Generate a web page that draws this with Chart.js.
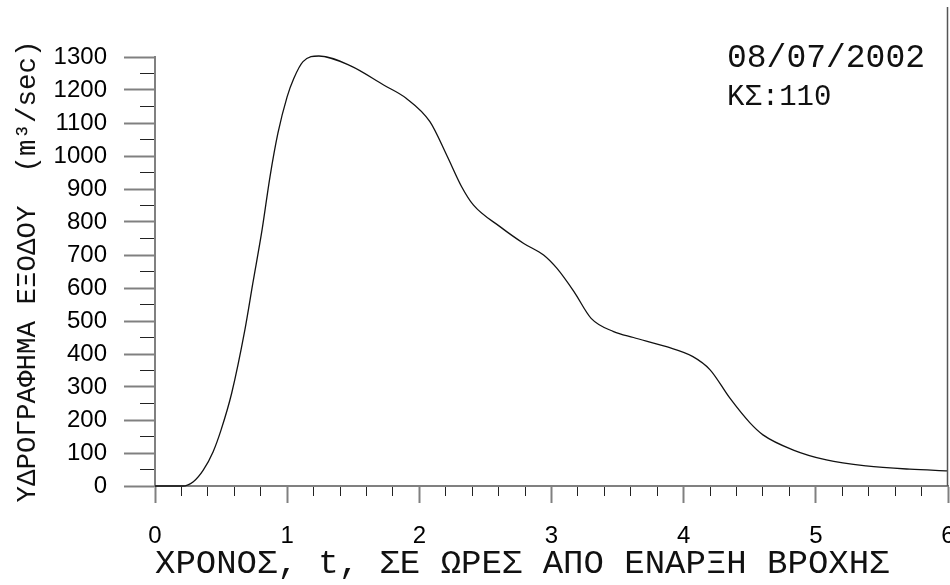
<!DOCTYPE html>
<html>
<head>
<meta charset="utf-8">
<script src="https://cdn.jsdelivr.net/npm/chart.js@4/dist/chart.umd.min.js"></script>
<style>
  html, body { margin: 0; padding: 0; background: #fff; }
  #wrap { width: 950px; height: 585px; }
</style>
</head>
<body>
<div id="wrap"><canvas id="hydro"></canvas></div>
<script>
// hydrograph: time (h) and outflow (m3/sec)
const times = [0, 0.21, 0.29, 0.365, 0.44, 0.5, 0.58, 0.68, 0.74, 0.81, 0.87, 0.93, 1.0, 1.05, 1.12, 1.24,
    1.48, 1.73, 1.9, 2.08, 2.21, 2.32, 2.41, 2.61, 2.79, 2.94, 3.04, 3.17, 3.3, 3.47, 3.62, 3.87,
    4.07, 4.2, 4.35, 4.5, 4.6, 4.83, 5.08, 5.38, 5.71, 6.0];
const flows = [0, 0, 13, 48, 104, 170, 281, 473, 614, 776, 937, 1069, 1180, 1235, 1286, 1303,
    1273, 1215, 1175, 1104, 1000, 907, 851, 786, 735, 700, 660, 589, 508, 468, 450, 422,
    392, 352, 266, 192, 155, 109, 79, 61, 51, 46];

const xRange = [0, 6];
const yRange = [0, 1300];
const eventDate = '08/07/2002';
const stationLabel = 'ΚΣ:110';
const xTitle = 'ΧΡΟΝΟΣ, t, ΣΕ ΩΡΕΣ ΑΠΟ ΕΝΑΡΞΗ ΒΡΟΧΗΣ';
const yTitle = 'ΥΔΡΟΓΡΑΦΗΜΑ ΕΞΟΔΟΥ  (m³/sec)';

const MONO = "'Liberation Mono', 'DejaVu Sans Mono', monospace";
const SANS = "'Liberation Sans', Arial, sans-serif";

const isWhole = (v, step) => Math.abs(v / step - Math.round(v / step)) < 1e-6;

// frame on the right + the date / station text
const annotations = {
    id: 'annotations',
    afterDraw(chart) {
        const { ctx, chartArea } = chart;
        ctx.save();
        ctx.strokeStyle = '#555';
        ctx.lineWidth = 1.5;
        ctx.beginPath();
        ctx.moveTo(chartArea.right - 0.5, 7);
        ctx.lineTo(chartArea.right - 0.5, chartArea.bottom);
        ctx.stroke();

        ctx.fillStyle = '#111';
        ctx.textAlign = 'left';
        ctx.textBaseline = 'middle';
        ctx.font = '33px ' + MONO;
        ctx.fillText(eventDate, 727, 58);
        ctx.font = '29px ' + MONO;
        ctx.fillText(stationLabel, 727, 97);
        ctx.restore();
    }
};

new Chart(document.getElementById('hydro'), {
    type: 'scatter',
    data: {
        datasets: [{
            data: times.map((t, i) => ({ x: t, y: flows[i] })),
            showLine: true,
            borderColor: '#111',
            borderWidth: 1.3,
            pointRadius: 0,
            tension: 0.4,
            cubicInterpolationMode: 'monotone',
            clip: 6
        }]
    },
    options: {
        responsive: true,
        maintainAspectRatio: false,
        animation: false,
        layout: { padding: { top: 57, right: 2, left: 0, bottom: 0 } },
        plugins: { legend: { display: false }, tooltip: { enabled: false } },
        scales: {
            x: {
                type: 'linear',
                min: xRange[0],
                max: xRange[1],
                afterFit: s => { s.height = 99; s.paddingLeft = 0; s.paddingRight = 0; },
                ticks: {
                    stepSize: 0.2,
                    autoSkip: false,
                    maxRotation: 0,
                    padding: 19,
                    color: '#000',
                    font: { family: SANS, size: 24 },
                    callback: v => isWhole(v, 1) ? String(Math.round(v)) : ''
                },
                grid: {
                    drawOnChartArea: false,
                    tickLength: 17,
                    tickColor: c => isWhole(c.tick.value, 1) ? '#808080' : '#222',
                    tickWidth: c => isWhole(c.tick.value, 1) ? 2 : 1,
                    tickBorderDash: c => isWhole(c.tick.value, 1) ? [] : [9, 100]
                },
                border: { color: '#808080', width: 2 },
                title: {
                    display: true,
                    text: xTitle,
                    align: 'start',
                    color: '#111',
                    font: { family: MONO, size: 34, lineHeight: 1 },
                    padding: { top: 0, bottom: 4 }
                }
            },
            y: {
                min: yRange[0],
                max: yRange[1],
                afterFit: s => { s.width = 155; s.paddingTop = 0; s.paddingBottom = 0; },
                ticks: {
                    stepSize: 50,
                    autoSkip: false,
                    padding: 17,
                    color: '#000',
                    font: { family: SANS, size: 24 },
                    callback: v => isWhole(v, 100) ? String(Math.round(v)) : ''
                },
                grid: {
                    drawOnChartArea: false,
                    tickLength: 31,
                    tickColor: c => isWhole(c.tick.value, 100) ? '#808080' : '#222',
                    tickWidth: c => isWhole(c.tick.value, 100) ? 2 : 1,
                    tickBorderDash: c => isWhole(c.tick.value, 100) ? [] : [0, 16, 15, 100]
                },
                border: { color: '#808080', width: 2 },
                title: {
                    display: true,
                    text: yTitle,
                    color: '#111',
                    font: { family: MONO, size: 27.5, lineHeight: 1 },
                    padding: { top: 14, bottom: 0 }
                }
            }
        }
    },
    plugins: [annotations]
});
</script>
</body>
</html>
